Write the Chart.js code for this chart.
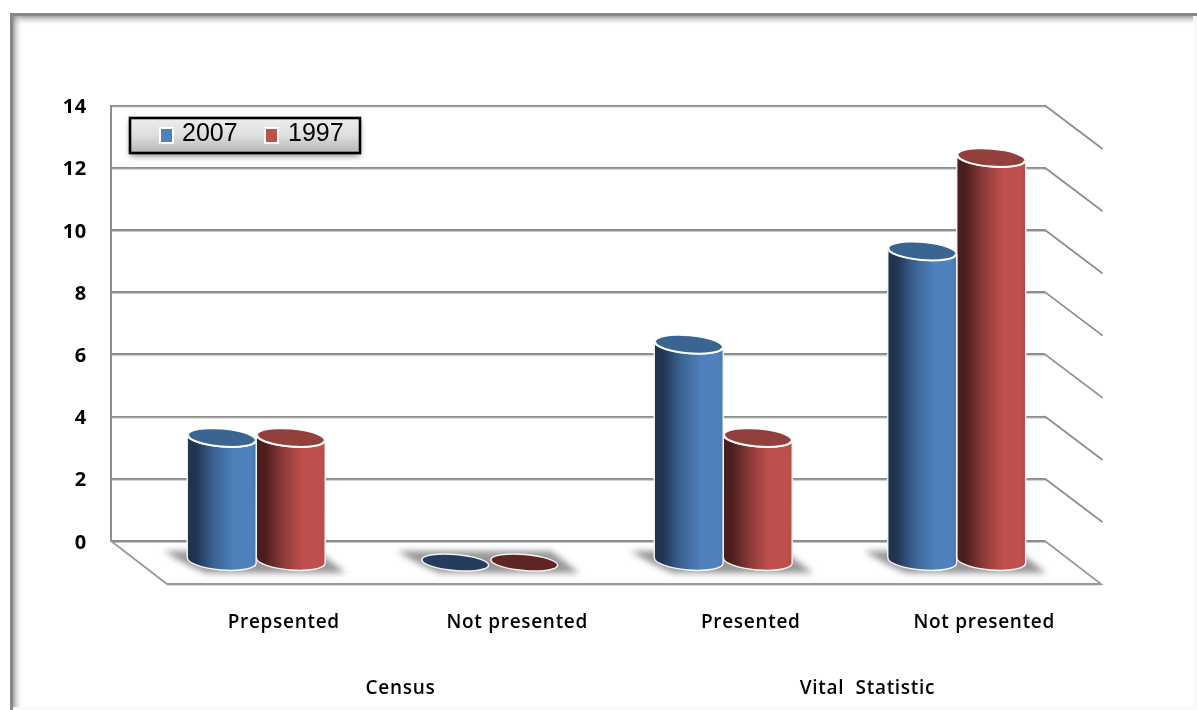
<!DOCTYPE html>
<html>
<head>
<meta charset="utf-8">
<title>Census and vital statistics presentation</title>
<style>
  html, body { margin: 0; padding: 0; background: #fff; }
  canvas { display: block; }
</style>
<script src="https://cdn.jsdelivr.net/npm/chart.js@4/dist/chart.umd.min.js"></script>
</head>
<body>
<canvas id="chart" width="1197" height="710"></canvas>
<script>
// Chart data
const categories = ['Prepsented', 'Not presented', 'Presented', 'Not presented'];
const groups = ['Census', 'Vital  Statistic'];
const values2007 = [4, 0, 7, 10];
const values1997 = [4, 0, 4, 13];

// Series palettes: base colour, shaded side, mid tone, lid, flat disc
const bluePalette = { base: '#4f81bd', dark: '#20344f', mid: '#3a6292', lid: '#3a6492', flat: '#253c5e', rim: '#4a79b2' };
const redPalette  = { base: '#c0504d', dark: '#4a1e1d', mid: '#8b3a38', lid: '#93403d', flat: '#5e2523', rim: '#b44b48' };
const palettes = { '#4f81bd': bluePalette, '#c0504d': redPalette };

// Depth of the 3D box: shift from back wall to front edge of the floor
const DEPTH_X = 56;
const DEPTH_Y = 43;
const LABEL_FONT = 'Open Sans';

// Bars are painted as tilted cylinders standing midway down the floor
Chart.BarElement.prototype.draw = function (ctx) {
  const pal = palettes[this.options.backgroundColor] || bluePalette;
  const cx = this.x + DEPTH_X / 2 + 0.5;
  const rx = this.width / 2;
  const ryBase = 9.5;
  const ryTop = 8.5;
  const tilt = 0.085;
  const topY = this.y + DEPTH_Y / 2;
  const baseY = this.base + DEPTH_Y / 2 - 1;
  const flat = this.base - this.y < 1;
  ctx.save();
  ctx.lineJoin = 'round';
  if (flat) {
    ctx.beginPath();
    ctx.ellipse(cx, baseY + 1, rx - 1, ryBase - 1.5, tilt, 0, Math.PI * 2);
    ctx.fillStyle = pal.flat;
    ctx.fill();
    ctx.strokeStyle = '#f4f4f4';
    ctx.lineWidth = 1.5;
    ctx.stroke();
    ctx.restore();
    return;
  }
  const lean = rx * Math.sin(tilt);
  const body = new Path2D();
  body.moveTo(cx - rx, topY - lean);
  body.lineTo(cx - rx, baseY - lean);
  body.ellipse(cx, baseY, rx, ryBase, tilt, Math.PI, 0, true);
  body.lineTo(cx + rx, topY + lean);
  body.ellipse(cx, topY, rx, ryTop, tilt, 0, Math.PI, false);
  body.closePath();
  const shade = ctx.createLinearGradient(cx - rx, 0, cx + rx, 0);
  shade.addColorStop(0, pal.dark);
  shade.addColorStop(0.12, pal.dark);
  shade.addColorStop(0.38, pal.mid);
  shade.addColorStop(0.68, pal.base);
  shade.addColorStop(0.92, pal.base);
  shade.addColorStop(1, pal.rim);
  ctx.fillStyle = shade;
  ctx.fill(body);
  ctx.strokeStyle = '#f6f6f6';
  ctx.lineWidth = 1.4;
  ctx.stroke(body);
  // Lid with a bright front rim
  ctx.beginPath();
  ctx.ellipse(cx, topY, rx - 1, ryTop, tilt, 0, Math.PI * 2);
  ctx.fillStyle = pal.lid;
  ctx.fill();
  ctx.beginPath();
  ctx.ellipse(cx, topY, rx - 1, ryTop, tilt, 0, Math.PI);
  ctx.strokeStyle = '#ffffff';
  ctx.lineWidth = 2;
  ctx.stroke();
  ctx.restore();
};

// Outer frame with its soft inner shadow, the white page beneath everything
const framePlugin = {
  id: 'frame',
  beforeDraw(chart) {
    const { ctx, width, height } = chart;
    ctx.letterSpacing = '0.7px'; // tracked-out axis labels
    ctx.save();
    ctx.fillStyle = '#ffffff';
    ctx.fillRect(0, 0, width, height);
    const top = ctx.createLinearGradient(0, 16, 0, 26);
    top.addColorStop(0, 'rgba(130,130,130,0.75)');
    top.addColorStop(1, 'rgba(255,255,255,0)');
    ctx.fillStyle = top;
    ctx.fillRect(13, 16, width - 13, 10);
    const left = ctx.createLinearGradient(13, 0, 23, 0);
    left.addColorStop(0, 'rgba(130,130,130,0.75)');
    left.addColorStop(1, 'rgba(255,255,255,0)');
    ctx.fillStyle = left;
    ctx.fillRect(13, 16, 10, height - 16);
    ctx.fillStyle = '#888888';
    ctx.fillRect(10, 13, width - 10, 3);
    ctx.fillRect(10, 13, 3, height - 13);
    ctx.fillStyle = '#f9f9f9';
    ctx.fillRect(1193, 16, 4, height - 16);
    ctx.fillRect(13, 707, width - 13, 3);
    ctx.restore();
  }
};

// Side wall ticks, floor outline and contact shadows of the columns
const boxPlugin = {
  id: 'box3d',
  beforeDatasetsDraw(chart) {
    const { ctx, chartArea, scales } = chart;
    const { left, right } = chartArea;
    const zero = scales.y.getPixelForValue(0);
    ctx.save();
    ctx.lineCap = 'round';
    // soft lower edge under every grid line
    ctx.fillStyle = '#c6c6c6';
    scales.y.ticks.forEach(t => {
      ctx.fillRect(left + 1, scales.y.getPixelForValue(t.value) + 1, right - left, 1);
    });
    // diagonal wall lines
    ctx.strokeStyle = '#8e8e8e';
    ctx.lineWidth = 1.8;
    scales.y.ticks.forEach(t => {
      if (t.value === 0) return;
      const y = scales.y.getPixelForValue(t.value);
      ctx.beginPath();
      ctx.moveTo(right, y);
      ctx.lineTo(right + DEPTH_X + 1, y + DEPTH_Y);
      ctx.stroke();
    });
    // floor
    ctx.strokeStyle = '#999999';
    ctx.beginPath();
    ctx.moveTo(left, zero);
    ctx.lineTo(left + DEPTH_X, zero + DEPTH_Y);
    ctx.lineTo(right + DEPTH_X, zero + DEPTH_Y);
    ctx.lineTo(right, zero);
    ctx.stroke();
    ctx.fillStyle = '#dddddd';
    ctx.fillRect(left + DEPTH_X, zero + DEPTH_Y + 1, right - left, 1);
    // contact shadows, one per category
    ctx.filter = 'blur(3px)';
    ctx.fillStyle = '#979797';
    scales.x.ticks.forEach((t, i) => {
      const cx = scales.x.getPixelForValue(i) + DEPTH_X / 2;
      ctx.beginPath();
      ctx.moveTo(cx - 92, zero + 10);
      ctx.lineTo(cx + 62, zero + 10);
      ctx.lineTo(cx + 90, zero + 32);
      ctx.lineTo(cx - 50, zero + 32);
      ctx.quadraticCurveTo(cx - 70, zero + 24, cx - 92, zero + 10);
      ctx.closePath();
      ctx.fill();
    });
    ctx.restore();
  }
};

// Legend panel over the top of the back wall
const legendPlugin = {
  id: 'panelLegend',
  afterDraw(chart) {
    const { ctx } = chart;
    const x = 130, y = 118, w = 230, h = 35;
    ctx.save();
    ctx.letterSpacing = '0px';
    ctx.shadowColor = 'rgba(0,0,0,0.45)';
    ctx.shadowBlur = 6;
    ctx.shadowOffsetY = 3;
    const g = ctx.createLinearGradient(0, y, 0, y + h);
    g.addColorStop(0, '#eeeeee');
    g.addColorStop(0.5, '#dedede');
    g.addColorStop(1, '#b4b4b4');
    ctx.fillStyle = g;
    ctx.fillRect(x, y, w, h);
    ctx.shadowColor = 'transparent';
    ctx.strokeStyle = '#000000';
    ctx.lineWidth = 2.6;
    ctx.strokeRect(x, y, w, h);
    ctx.font = '25px "Liberation Sans"';
    ctx.textBaseline = 'middle';
    ctx.textAlign = 'left';
    const slots = [{ box: 160, text: 182 }, { box: 265, text: 288 }];
    chart.data.datasets.forEach((ds, i) => {
      ctx.fillStyle = '#ffffff';
      ctx.fillRect(slots[i].box - 1, 127, 15, 17);
      ctx.fillStyle = ds.backgroundColor;
      ctx.fillRect(slots[i].box + 1, 129, 11, 13);
      ctx.fillStyle = '#000000';
      ctx.fillText(ds.label, slots[i].text, 134.5);
    });
    ctx.restore();
  }
};

new Chart(document.getElementById('chart'), {
  type: 'bar',
  data: {
    labels: categories,
    datasets: [
      { label: '2007', data: values2007, backgroundColor: '#4f81bd', clip: false },
      { label: '1997', data: values1997, backgroundColor: '#c0504d', clip: false }
    ]
  },
  options: {
    responsive: false,
    animation: false,
    events: [],
    categoryPercentage: 0.591,
    barPercentage: 1,
    layout: { padding: { left: 0, top: 105.5, right: 152, bottom: 0 } },
    plugins: { legend: { display: false }, tooltip: { enabled: false }, title: { display: false } },
    scales: {
      x: {
        weight: 0,
        grid: { display: false, drawTicks: false },
        border: { display: false },
        afterFit(scale) { scale.height = 105; },
        ticks: {
          autoSkip: false, maxRotation: 0, padding: 70, labelOffset: DEPTH_X, color: '#000',
          font: { family: LABEL_FONT, size: 19, weight: '600' }
        }
      },
      x2: {
        type: 'category',
        labels: groups,
        position: 'bottom',
        offset: true,
        weight: 1,
        grid: { display: false, drawTicks: false },
        border: { display: false },
        afterFit(scale) { scale.height = 64; },
        ticks: {
          autoSkip: false, maxRotation: 0, padding: 31, labelOffset: DEPTH_X, color: '#000',
          font: { family: LABEL_FONT, size: 19, weight: '600' }
        }
      },
      y: {
        min: 0,
        max: 14,
        afterFit(scale) { scale.width = 111; },
        grid: { color: '#8c8c8c', lineWidth: 2, drawTicks: false },
        border: { color: '#8c8c8c', width: 2 },
        ticks: {
          stepSize: 2, padding: 24, labelOffset: 2, color: '#000',
          font: { family: LABEL_FONT, size: 20, weight: '700' }
        }
      }
    }
  },
  plugins: [framePlugin, boxPlugin, legendPlugin]
});
</script>
</body>
</html>
